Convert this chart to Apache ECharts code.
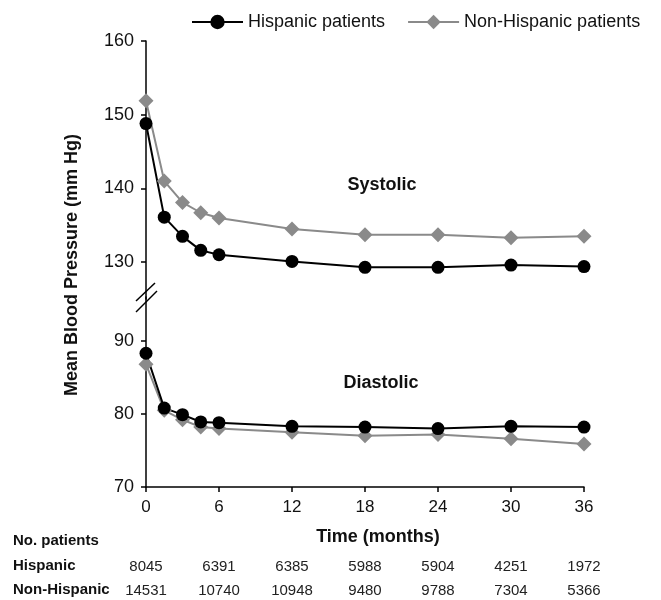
<!DOCTYPE html>
<html>
<head>
<meta charset="utf-8">
<script src="https://cdn.jsdelivr.net/npm/echarts@6/dist/echarts.min.js"></script>
<style>
  html, body { margin: 0; padding: 0; background: #fff; }
  #chart { width: 661px; height: 600px; }
</style>
</head>
<body>
<div id="chart"></div>
<script>
// months of follow-up for each measurement
const months = [0, 1.5, 3, 4.5, 6, 12, 18, 24, 30, 36];
const hispSystolic = [148.8, 136.1, 133.5, 131.6, 131.0, 130.1, 129.3, 129.3, 129.6, 129.4];
const nonHispSystolic = [151.9, 141.0, 138.1, 136.7, 136.0, 134.5, 133.7, 133.7, 133.3, 133.5];
const hispDiastolic = [88.3, 80.8, 79.9, 78.9, 78.8, 78.3, 78.2, 78.0, 78.3, 78.2];
const nonHispDiastolic = [86.8, 80.5, 79.2, 78.2, 78.0, 77.5, 77.0, 77.2, 76.6, 75.9];

// patients at risk, one per x tick (0, 6, ... 36)
const hispCount = [8045, 6391, 6385, 5988, 5904, 4251, 1972];
const nonHispCount = [14531, 10740, 10948, 9480, 9788, 7304, 5366];

const topTicks = [130, 140, 150, 160];
const bottomTicks = [70, 80, 90];

const FONT = "'Liberation Sans', Arial, sans-serif";
const GREY = '#8a8a8a';

const pairs = (xs, ys) => xs.map((x, i) => [x, ys[i]]);

const chart = echarts.init(document.getElementById('chart'), null, { renderer: 'canvas' });

const yBase = {
  axisLine: { show: true, lineStyle: { color: '#000', width: 1.5 } },
  axisTick: { show: true, length: 5, lineStyle: { color: '#000', width: 1.5 } },
  axisLabel: { color: '#111', fontSize: 18, fontFamily: FONT, margin: 12 },
  splitLine: { show: false }
};

const countAxis = (counts, offset) => ({
  type: 'value', gridIndex: 1, min: 0, max: 36, interval: 6, position: 'bottom', offset: offset,
  axisLine: { show: false }, axisTick: { show: false }, splitLine: { show: false },
  axisLabel: {
    color: '#222', fontSize: 15, fontFamily: FONT, margin: 8,
    formatter: v => counts[Math.round(v / 6)]
  }
});

const option = {
  animation: false,
  backgroundColor: '#fff',
  legend: {
    data: ['Hispanic patients', 'Non-Hispanic patients'],
    left: 186, top: 8,
    itemWidth: 51, itemHeight: 18, itemGap: 22,
    textStyle: { color: '#111', fontSize: 18, fontFamily: FONT }
  },
  grid: [
    { left: 146, right: 77, top: 41, height: 258 },
    { left: 146, right: 77, top: 297, height: 190 }
  ],
  xAxis: [
    { type: 'value', gridIndex: 0, min: 0, max: 36, interval: 6, show: false },
    {
      type: 'value', gridIndex: 1, min: 0, max: 36, interval: 6,
      axisLine: { show: true, lineStyle: { color: '#000', width: 1.5 } },
      axisTick: { show: true, length: 5, lineStyle: { color: '#000', width: 1.5 } },
      axisLabel: { color: '#111', fontSize: 17, fontFamily: FONT, margin: 12 },
      splitLine: { show: false },
      name: 'Time (months)', nameLocation: 'middle', nameGap: 41,
      nameTextStyle: { color: '#111', fontSize: 18, fontWeight: 'bold', fontFamily: FONT, padding: [0, 0, 0, 26] }
    },
    countAxis(hispCount, 64),
    countAxis(nonHispCount, 88)
  ],
  yAxis: [
    Object.assign({}, yBase, {
      type: 'value', gridIndex: 0, min: 125, max: 160,
      axisTick: Object.assign({}, yBase.axisTick, { customValues: topTicks }),
      axisLabel: Object.assign({}, yBase.axisLabel, { customValues: topTicks })
    }),
    Object.assign({}, yBase, {
      type: 'value', gridIndex: 1, min: 70, max: 96,
      axisTick: Object.assign({}, yBase.axisTick, { customValues: bottomTicks }),
      axisLabel: Object.assign({}, yBase.axisLabel, { customValues: bottomTicks })
    })
  ],
  series: [
    {
      name: 'Non-Hispanic patients', type: 'line', xAxisIndex: 0, yAxisIndex: 0,
      data: pairs(months, nonHispSystolic),
      symbol: 'diamond', symbolSize: 15,
      lineStyle: { color: GREY, width: 2 }, itemStyle: { color: GREY }
    },
    {
      name: 'Hispanic patients', type: 'line', xAxisIndex: 0, yAxisIndex: 0,
      data: pairs(months, hispSystolic),
      symbol: 'circle', symbolSize: 13,
      lineStyle: { color: '#000', width: 2 }, itemStyle: { color: '#000' }
    },
    {
      name: 'Non-Hispanic patients', type: 'line', xAxisIndex: 1, yAxisIndex: 1,
      data: pairs(months, nonHispDiastolic),
      symbol: 'diamond', symbolSize: 15,
      lineStyle: { color: GREY, width: 2 }, itemStyle: { color: GREY }
    },
    {
      name: 'Hispanic patients', type: 'line', xAxisIndex: 1, yAxisIndex: 1,
      data: pairs(months, hispDiastolic),
      symbol: 'circle', symbolSize: 13,
      lineStyle: { color: '#000', width: 2 }, itemStyle: { color: '#000' }
    }
  ],
  graphic: [
    {
      type: 'text', x: 72, y: 265, rotation: Math.PI / 2,
      style: { text: 'Mean Blood Pressure (mm Hg)', fill: '#111', font: 'bold 18px ' + FONT, align: 'center', verticalAlign: 'middle' }
    },
    {
      type: 'text', x: 382, y: 185,
      style: { text: 'Systolic', fill: '#111', font: 'bold 18px ' + FONT, align: 'center', verticalAlign: 'middle' }
    },
    {
      type: 'text', x: 381, y: 383,
      style: { text: 'Diastolic', fill: '#111', font: 'bold 18px ' + FONT, align: 'center', verticalAlign: 'middle' }
    },
    // axis break marks
    { type: 'line', shape: { x1: 136, y1: 301, x2: 155, y2: 283 }, style: { stroke: '#000', lineWidth: 1.5 } },
    { type: 'line', shape: { x1: 136, y1: 312, x2: 157, y2: 291 }, style: { stroke: '#000', lineWidth: 1.5 } },
    // row labels of the patient table
    {
      type: 'text', x: 13, y: 541,
      style: { text: 'No. patients', fill: '#111', font: 'bold 15px ' + FONT, verticalAlign: 'middle' }
    },
    {
      type: 'text', x: 13, y: 566,
      style: { text: 'Hispanic', fill: '#111', font: 'bold 15px ' + FONT, verticalAlign: 'middle' }
    },
    {
      type: 'text', x: 13, y: 590,
      style: { text: 'Non-Hispanic', fill: '#111', font: 'bold 15px ' + FONT, verticalAlign: 'middle' }
    }
  ]
};

chart.setOption(option);
</script>
</body>
</html>
